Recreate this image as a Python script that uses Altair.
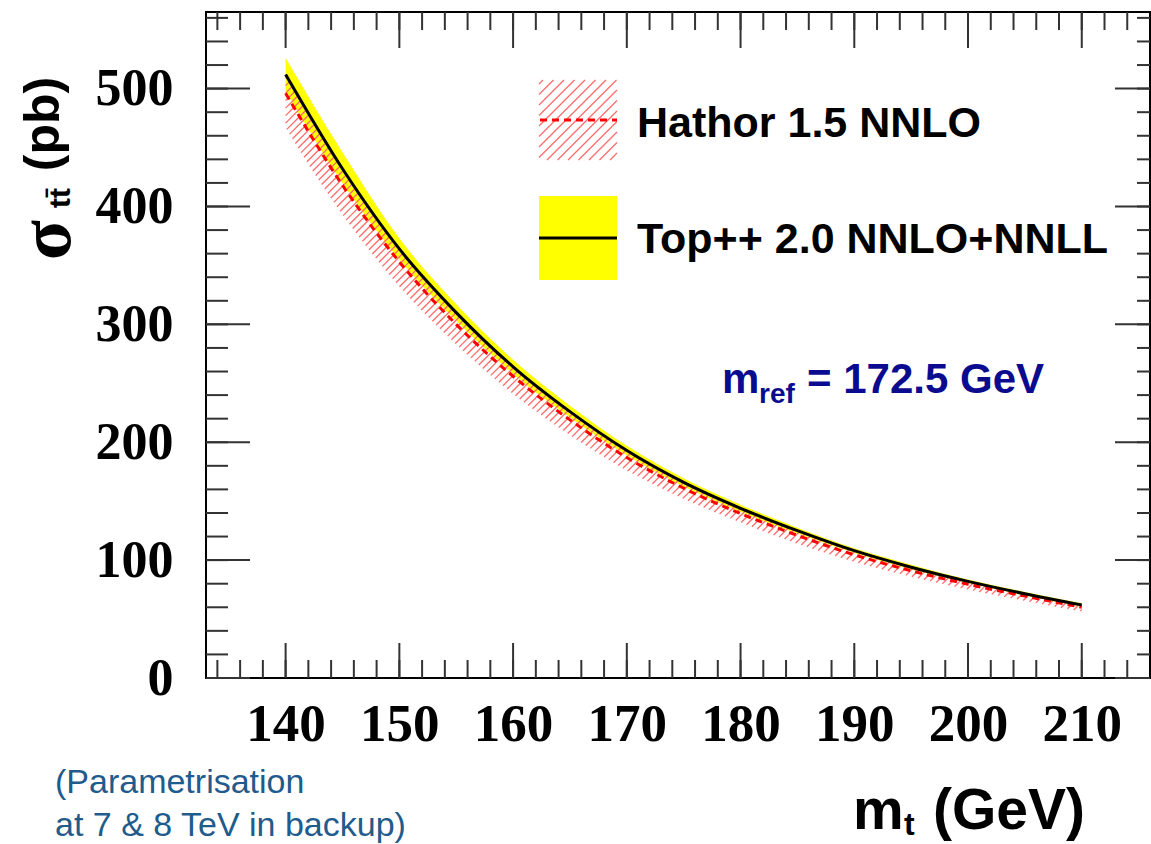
import altair as alt
import numpy as np
import pandas as pd

# ---------------- data ----------------
masses = [140, 145, 150, 155, 160, 165, 170, 175, 180, 185, 190, 195, 200, 205, 210]
top_central = [512, 432, 364, 310, 264, 226, 193, 166, 144, 125, 108, 94, 82, 71.5, 62]
top_upper = [526, 446, 373, 317, 270, 231, 197, 169.5, 147, 127.5, 110, 96, 83.5, 73, 63.5]
top_lower = [498, 420, 355, 303, 258, 221, 189, 162.5, 141, 122.5, 106, 92, 80.5, 70, 60.5]
hathor_central = [496, 418, 353, 300, 256, 219, 187, 161, 139.5, 121, 104.5, 91, 79.5, 69.5, 60]
hathor_upper = [510, 430, 363, 309, 263, 225, 192.5, 165.5, 143.5, 124.5, 107.5, 93.5, 81.5, 71, 61.5]
hathor_lower = [467, 393, 332, 283, 241, 206, 176, 152, 132, 114, 98.5, 86, 75, 65.5, 56.5]

x_major = [140, 150, 160, 170, 180, 190, 200, 210]
x_minor = list(range(134, 216, 2))
y_major = [0, 100, 200, 300, 400, 500]
y_minor = list(range(0, 561, 20))

legend_labels = ["Hathor 1.5 NNLO", "Top++ 2.0 NNLO+NNLL"]

X_DOMAIN = [133, 216]
Y_DOMAIN = [0, 565]
W, H = 944, 666

sx = W / (X_DOMAIN[1] - X_DOMAIN[0])
sy = H / (Y_DOMAIN[1] - Y_DOMAIN[0])


def px_to_m(px):
    return X_DOMAIN[0] + px / sx


def py_to_v(py):
    return Y_DOMAIN[1] - py / sy


SANS = "Liberation Sans"
SERIF = "Liberation Serif"

xscale = alt.Scale(domain=X_DOMAIN, nice=False, zero=False)
yscale = alt.Scale(domain=Y_DOMAIN, nice=False, zero=False)
xaxis = alt.Axis(values=x_major, ticks=False, domain=False, grid=False, title=None,
                 labelFont=SERIF, labelFontWeight="bold", labelFontSize=53,
                 labelPadding=20, labelColor="black", labelFlush=False)
yaxis = alt.Axis(values=y_major, ticks=False, domain=False, grid=False, title=None,
                 labelFont=SERIF, labelFontWeight="bold", labelFontSize=52,
                 labelPadding=33, labelColor="black")


def X(f):
    return alt.X(f, type="quantitative", scale=xscale, axis=xaxis)


def Y(f):
    return alt.Y(f, type="quantitative", scale=yscale, axis=yaxis)


df = pd.DataFrame({
    "m": masses,
    "top": top_central, "top_up": top_upper, "top_lo": top_lower,
    "hat": hathor_central, "hat_up": hathor_upper, "hat_lo": hathor_lower,
})

# ---------------- hatch pattern for the Hathor band ----------------
mf = np.linspace(masses[0], masses[-1], 14001)
lo_f = np.exp(np.interp(mf, masses, np.log(hathor_lower)))
up_f = np.exp(np.interp(mf, masses, np.log(hathor_upper)))
k = sx / sy  # 45 degrees on screen
step = 7.5 / sx
segs = []
c = 80.0
while c < 212:
    line = k * (mf - c)
    g = line >= lo_f
    h = line >= up_f
    if g.any():
        i0 = int(np.argmax(g))
        i1 = int(np.argmax(h)) if h.any() else len(mf) - 1
        if i1 > i0:
            segs.append((mf[i0], line[i0], mf[i1], line[i1]))
    c += step

# legend hatch swatch (screen box inside the plot, converted through the scales)
bx0, bx1, by0, by1 = 333, 411, 68, 148
b = bx0 + by0 + 4
while b < bx1 + by1:
    xa = max(bx0, b - by1)
    xb = min(bx1, b - by0)
    if xa < xb:
        segs.append((px_to_m(xa), py_to_v(b - xa), px_to_m(xb), py_to_v(b - xb)))
    b += 10.5

hatch_df = pd.DataFrame(segs, columns=["m1", "v1", "m2", "v2"])

# ---------------- layers ----------------
yellow = alt.Chart(df).mark_area(color="#ffff00", interpolate="monotone").encode(
    x=X("m"), y=Y("top_lo"), y2="top_up")

hatch = alt.Chart(hatch_df).mark_rule(color="#ff6a6a", strokeWidth=1.3).encode(
    x=X("m1"), y=Y("v1"), x2="m2", y2="v2")

hathor_line = alt.Chart(df).mark_line(color="#ff0000", strokeWidth=3, strokeDash=[7, 5],
                                      interpolate="monotone").encode(x=X("m"), y=Y("hat"))

top_line = alt.Chart(df).mark_line(color="black", strokeWidth=3,
                                   interpolate="monotone").encode(x=X("m"), y=Y("top"))

tick_color = "#333333"
xmaj = pd.DataFrame({"t": x_major})
xmin = pd.DataFrame({"t": x_minor})
ymaj = pd.DataFrame({"t": y_major})
ymin = pd.DataFrame({"t": y_minor})

ticks = [
    alt.Chart(xmaj).mark_rule(color=tick_color, strokeWidth=2).encode(x=X("t"), y=alt.value(H), y2=alt.value(H - 35)),
    alt.Chart(xmin).mark_rule(color=tick_color, strokeWidth=2).encode(x=X("t"), y=alt.value(H), y2=alt.value(H - 18)),
    alt.Chart(xmaj).mark_rule(color=tick_color, strokeWidth=2).encode(x=X("t"), y=alt.value(0), y2=alt.value(36)),
    alt.Chart(xmin).mark_rule(color=tick_color, strokeWidth=2).encode(x=X("t"), y=alt.value(0), y2=alt.value(18)),
    alt.Chart(ymaj).mark_rule(color=tick_color, strokeWidth=2).encode(y=Y("t"), x=alt.value(0), x2=alt.value(44)),
    alt.Chart(ymin).mark_rule(color=tick_color, strokeWidth=2).encode(y=Y("t"), x=alt.value(0), x2=alt.value(22)),
    alt.Chart(ymaj).mark_rule(color=tick_color, strokeWidth=2).encode(y=Y("t"), x=alt.value(W), x2=alt.value(W - 35)),
    alt.Chart(ymin).mark_rule(color=tick_color, strokeWidth=2).encode(y=Y("t"), x=alt.value(W), x2=alt.value(W - 13)),
]

# legend swatches
leg_yellow = alt.Chart(pd.DataFrame({"a": [0]})).mark_rect(color="#ffff00").encode(
    x=alt.value(333), x2=alt.value(411), y=alt.value(184), y2=alt.value(268))
leg_red = alt.Chart(pd.DataFrame({"a": [0]})).mark_rule(color="#ff0000", strokeWidth=3, strokeDash=[7, 5]).encode(
    x=alt.value(334), x2=alt.value(411), y=alt.value(108))
leg_black = alt.Chart(pd.DataFrame({"a": [0]})).mark_rule(color="black", strokeWidth=3).encode(
    x=alt.value(333), x2=alt.value(411), y=alt.value(226))


def text(s, x, y, size, color="black", font=SANS, weight="bold", align="left", baseline="alphabetic", angle=0):
    kw = dict(fontSize=size, color=color, font=font, fontWeight=weight, align=align, baseline=baseline)
    if angle:
        kw["angle"] = angle
    return alt.Chart(pd.DataFrame({"s": [s]})).mark_text(**kw).encode(
        text="s:N", x=alt.value(x), y=alt.value(y))


texts = [
    text(legend_labels[0], 431, 125, 43),
    text(legend_labels[1], 431, 241, 43),
    text("m", 516, 381, 42, color="#0b0b8f"),
    text("ref", 553, 391, 28, color="#0b0b8f"),
    text("= 172.5 GeV", 601, 381, 42, color="#0b0b8f"),
    text("m", 647, 817, 57),
    text("t", 698, 823, 32),
    text("(GeV)", 727, 817, 57),
    text("(pb)", -162, 112, 50, align="center", baseline="middle", angle=270),
    text("σ", -158, 228, 74, font=SERIF, align="center", baseline="middle", angle=270),
    text("tt\u0304", -145, 186, 30, align="center", baseline="middle", angle=270),
    text("(Parametrisation", -151, 781, 34, color="#1f5b8c", weight="normal"),
    text("at 7 & 8 TeV in backup)", -151, 824, 34, color="#1f5b8c", weight="normal"),
]

chart = alt.layer(
    yellow, hatch, hathor_line, top_line, *ticks, leg_yellow, leg_red, leg_black, *texts
).properties(
    width=W, height=H,
    padding={"left": 206, "top": 12, "right": 1, "bottom": 166},
    autosize=alt.AutoSizeParams(type="none"),
    background="white",
).configure_view(stroke="black", strokeWidth=2)

chart.save("out.html", embed_options={"renderer": "svg", "actions": False})
